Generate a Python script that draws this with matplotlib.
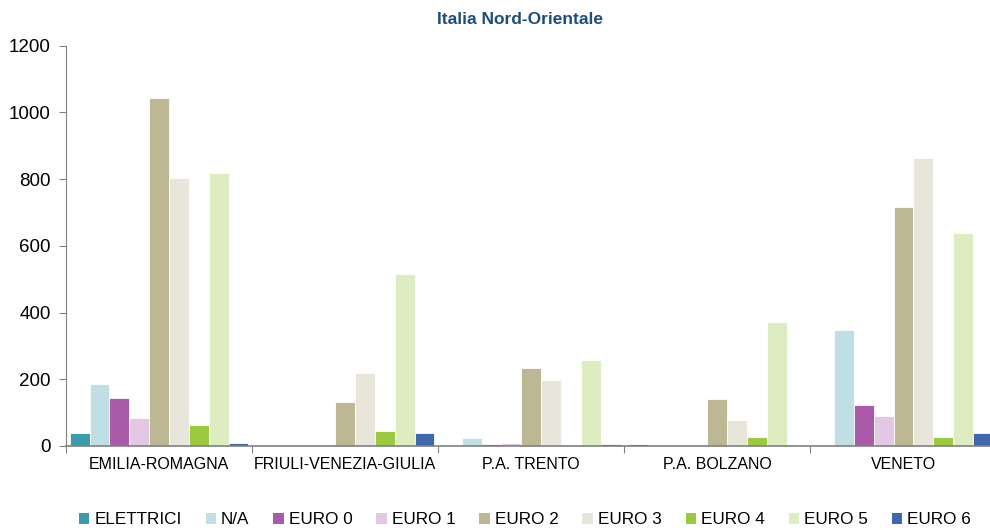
import numpy as np
import matplotlib.pyplot as plt
from matplotlib.patches import Patch

plt.rcParams['font.family'] = ['Liberation Sans', 'DejaVu Sans']

regioni = ["EMILIA-ROMAGNA", "FRIULI-VENEZIA-GIULIA", "P.A. TRENTO", "P.A. BOLZANO", "VENETO"]
classi = ["ELETTRICI", "N/A", "EURO 0", "EURO 1", "EURO 2", "EURO 3", "EURO 4", "EURO 5", "EURO 6"]
colori = ["#3a9dae", "#bfdfe5", "#a95baa", "#e2c8e3", "#bdb793",
          "#e8e6db", "#9bc93f", "#deecc2", "#3f67ad"]

# valori per classe (una lista per regione nell'ordine di regioni)
elettrici = [38, 0, 0, 7, 0]
na = [187, 4, 25, 1, 347]
euro0 = [143, 0, 7, 2, 124]
euro1 = [84, 0, 10, 0, 91]
euro2 = [1043, 132, 235, 142, 715]
euro3 = [802, 220, 197, 78, 862]
euro4 = [64, 44, 4, 28, 26]
euro5 = [818, 515, 257, 372, 640]
euro6 = [10, 40, 6, 2, 38]
serie = [elettrici, na, euro0, euro1, euro2, euro3, euro4, euro5, euro6]

fig = plt.figure(figsize=(9.9, 5.3), dpi=100)
ax = fig.add_axes([66/990, 1-446/530, (996.5-66)/990, (446-45.7)/530])

x = np.arange(len(regioni))
w = 0.96/len(classi)
for k, (vals, col) in enumerate(zip(serie, colori)):
    ax.bar(x - 0.48 + w*(k+0.5), vals, width=w, color=col, edgecolor="white", linewidth=0.6)

ax.set_xlim(-0.5, len(regioni)-0.5)
ax.set_ylim(0, 1200)
ax.set_yticks(np.arange(0, 1201, 200))
ax.set_xticks(np.arange(len(regioni)+1) - 0.5)
ax.set_xticklabels([])
ax.set_xticks(x, minor=True)
ax.set_xticklabels(regioni, minor=True)
ax.tick_params(axis="x", which="minor", length=0, labelsize=11.5, pad=8)
ax.tick_params(axis="x", which="major", length=5, color="#808080", direction="out")
ax.tick_params(axis="y", length=5, color="#808080", labelsize=13.5, pad=6)

for s in ["top", "right"]:
    ax.spines[s].set_visible(False)
ax.spines["left"].set_color("#808080")
ax.spines["bottom"].set_color("#808080")
ax.spines["bottom"].set_linewidth(1.2)

fig.text(520/990, 1-20/530, "Italia Nord-Orientale", ha="center", va="center",
         fontsize=12.5, fontweight="bold", color="#1f4e79")

handles = [Patch(facecolor=c, edgecolor="none") for c in colori]
fig.legend(handles, classi, loc="center", bbox_to_anchor=(525/990, 1-520/530), ncol=9,
           frameon=False, fontsize=12.3, handlelength=0.6, handleheight=0.6,
           handletextpad=0.3, columnspacing=1.4)

fig.savefig("out.png", dpi=100)
